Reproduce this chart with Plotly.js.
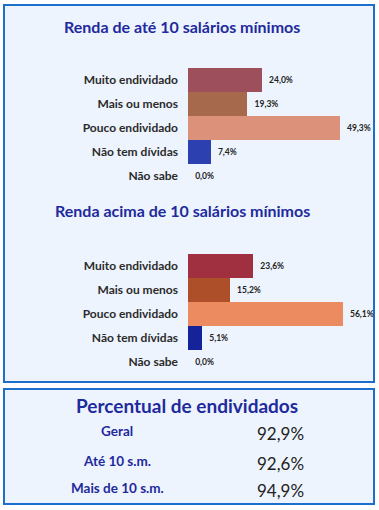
<!DOCTYPE html>
<html><head><meta charset="utf-8">
<script src="https://cdn.plot.ly/plotly-3.0.1.min.js"></script>
<style>html,body{margin:0;padding:0;background:#fff;}#chart{width:379px;height:510px;}</style>
</head><body><div id="chart"></div>
<script>
const categories = ["Muito endividado", "Mais ou menos", "Pouco endividado", "Não tem dívidas", "Não sabe"];
const valuesAte10 = [24.0, 19.3, 49.3, 7.4, 0.0];
const valuesAcima10 = [23.6, 15.2, 56.1, 5.1, 0.0];
const colorsAte10 = ["#9e4f5c", "#a6694b", "#db917a", "#2c40b0", "#2c40b0"];
const colorsAcima10 = ["#a03040", "#ad4f28", "#ec8a60", "#15239b", "#15239b"];
const summaryLabels = ["Geral", "Até 10 s.m.", "Mais de 10 s.m."];
const summaryValues = [92.9, 92.6, 94.9];

const W = 379, H = 510;
const px = x => x / W;
const py = y => 1 - y / H;
const FONT = "Lato, 'Open Sans', sans-serif";
const navy = "#1f2a9c";

function barTrace(vals, cols, xa, ya) {
  return {
    type: "bar", orientation: "h", x: vals, y: categories, xaxis: xa, yaxis: ya,
    marker: {color: cols, line: {width: 0}},
    texttemplate: "\u00a0\u00a0%{x:.1f}%", textposition: "outside", cliponaxis: false,
    textfont: {family: FONT, size: 8.5, color: "#222", weight: "bold"},
    hoverinfo: "skip", showlegend: false
  };
}

const yCommon = {
  type: "category", autorange: "reversed", showgrid: false, zeroline: false,
  showline: false, ticks: "", ticklabelstandoff: 9,
  tickfont: {family: FONT, size: 12, color: "#2b2b2b", weight: "bold"}
};
const xCommon = {showgrid: false, zeroline: false, showline: false, showticklabels: false, ticks: ""};

function ann(text, x, y, font) {
  return {text: text, x: px(x), y: py(y), xref: "paper", yref: "paper", xanchor: "center", yanchor: "middle",
    showarrow: false, font: font};
}

const annotations = [
  ann("Renda de até 10 salários mínimos", 182, 26, {family: FONT, size: 16, color: navy, weight: "bold"}),
  ann("Renda acima de 10 salários mínimos", 182, 210, {family: FONT, size: 16, color: navy, weight: "bold"}),
  ann("Percentual de endividados", 187, 405, {family: FONT, size: 19, color: navy, weight: "bold"})
];
const rowY = [431, 461, 488];
summaryLabels.forEach((lab, i) => {
  annotations.push(ann(lab, 117, rowY[i], {family: FONT, size: 13.5, color: navy, weight: "bold"}));
  annotations.push(ann(summaryValues[i].toFixed(1).replace(".", ",") + "%", 280, rowY[i] + 2,
    {family: FONT, size: 17, color: "#222"}));
});

const shapes = [
  {type: "rect", xref: "paper", yref: "paper", x0: px(4), x1: px(374), y0: py(382), y1: py(5),
   fillcolor: "#edf4fd", line: {color: "#1c6fcc", width: 2}, layer: "below"},
  {type: "rect", xref: "paper", yref: "paper", x0: px(4), x1: px(374), y0: py(504), y1: py(389),
   fillcolor: "#edf4fd", line: {color: "#1c6fcc", width: 2}, layer: "below"}
];

const layout = {
  width: W, height: H, margin: {l: 0, r: 0, t: 0, b: 0},
  paper_bgcolor: "#ffffff", plot_bgcolor: "rgba(0,0,0,0)",
  separators: ",.", bargap: 0, showlegend: false,
  xaxis: Object.assign({}, xCommon, {domain: [px(188), px(360)], range: [0, (360 - 188) / 3.08], anchor: "y"}),
  yaxis: Object.assign({}, yCommon, {domain: [py(188), py(68)], anchor: "x"}),
  xaxis2: Object.assign({}, xCommon, {domain: [px(188), px(360)], range: [0, (360 - 188) / 2.76], anchor: "y2"}),
  yaxis2: Object.assign({}, yCommon, {domain: [py(374), py(254)], anchor: "x2"}),
  annotations: annotations, shapes: shapes
};

Plotly.newPlot("chart", [
  barTrace(valuesAte10, colorsAte10, "x", "y"),
  barTrace(valuesAcima10, colorsAcima10, "x2", "y2")
], layout, {displayModeBar: false, staticPlot: true});
</script></body></html>
